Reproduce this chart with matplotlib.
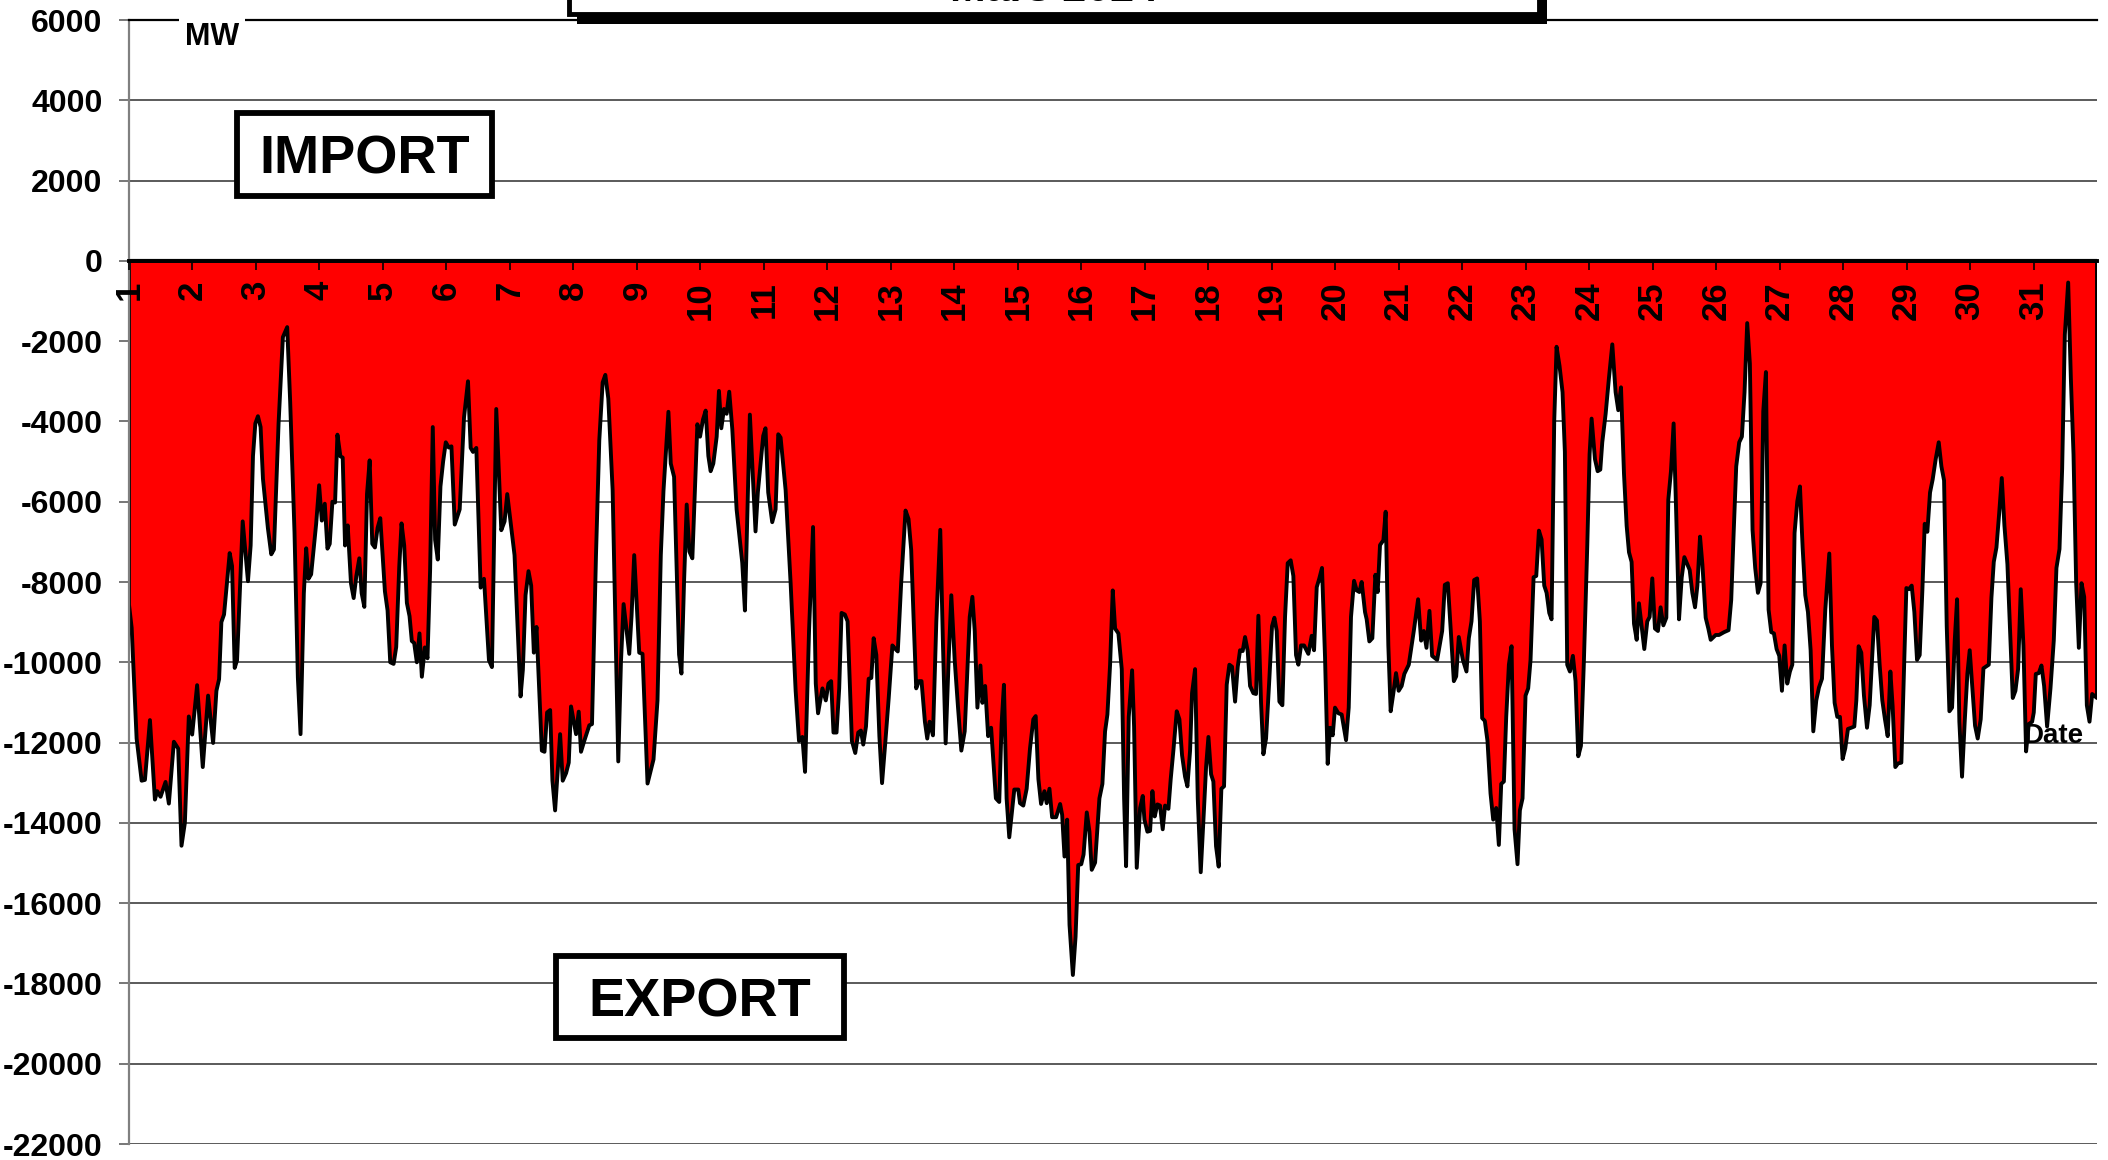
import matplotlib

matplotlib.use("Agg")
import matplotlib.pyplot as plt
import numpy as np
from matplotlib.patches import Rectangle

plt.rcParams["font.family"] = ["Liberation Sans", "DejaVu Sans"]
plt.rcParams["font.weight"] = "bold"
plt.rcParams["axes.unicode_minus"] = False

TITLE = "Mars 2024"
UNIT = "MW"
IMPORT_LABEL = "IMPORT"
EXPORT_LABEL = "EXPORT"
X_LABEL = "Date"
day_ticks = list(range(1, 32))
mw_ticks = list(range(-22000, 6001, 2000))

# Net exchange (MW); position in days of the month.
day_pos = [
    1.000, 1.042, 1.120, 1.199, 1.251, 1.330, 1.408, 1.445, 1.497, 1.576, 1.628, 1.707, 1.775, 1.827, 1.880,
    1.942, 1.995, 2.073, 2.162, 2.246, 2.325, 2.377, 2.419, 2.455, 2.497, 2.586, 2.623, 2.665, 2.702, 2.791,
    2.874, 2.916, 2.953, 2.990, 3.031, 3.073, 3.110, 3.188, 3.241, 3.283, 3.356, 3.424, 3.492, 3.539, 3.607,
    3.660, 3.702, 3.754, 3.791, 3.827, 3.869, 3.948, 3.995, 4.037, 4.084, 4.126, 4.162, 4.204, 4.246, 4.283,
    4.330, 4.366, 4.403, 4.445, 4.497, 4.539, 4.581, 4.628, 4.665, 4.707, 4.749, 4.791, 4.832, 4.874, 4.916,
    4.958, 5.031, 5.073, 5.115, 5.168, 5.209, 5.257, 5.293, 5.335, 5.377, 5.419, 5.455, 5.492, 5.534, 5.576,
    5.613, 5.660, 5.702, 5.743, 5.785, 5.822, 5.864, 5.906, 5.948, 5.990,
    6.037, 6.079, 6.131, 6.209, 6.277, 6.340, 6.382, 6.419, 6.471, 6.539, 6.592, 6.670, 6.717, 6.785, 6.864,
    6.916, 6.958, 7.073, 7.168, 7.204, 7.246, 7.293, 7.335, 7.377, 7.419, 7.503, 7.545, 7.586, 7.634, 7.670,
    7.712, 7.791, 7.832, 7.885, 7.927, 7.963, 8.042, 8.084, 8.120, 8.173, 8.251, 8.293, 8.356, 8.408, 8.461,
    8.503, 8.550, 8.618, 8.707, 8.749, 8.791, 8.880, 8.916, 8.958, 9.037, 9.089, 9.168, 9.262, 9.325, 9.377,
    9.419, 9.497, 9.534, 9.586, 9.665, 9.702, 9.743, 9.785, 9.827, 9.874, 9.953, 9.995, 10.042, 10.084, 10.126,
    10.162, 10.204, 10.257, 10.293, 10.330, 10.372, 10.414, 10.455, 10.503, 10.571, 10.660, 10.702, 10.780,
    10.869, 10.906, 10.990,
    11.026, 11.069, 11.132, 11.185, 11.227, 11.264, 11.343, 11.422, 11.501, 11.554, 11.607, 11.649, 11.712,
    11.775, 11.818, 11.854, 11.923, 11.976, 12.018, 12.060, 12.097, 12.145, 12.187, 12.224, 12.276, 12.319,
    12.387, 12.440, 12.487, 12.529, 12.566, 12.609, 12.651, 12.693, 12.730, 12.772, 12.820, 12.862, 12.915,
    12.967, 13.025, 13.073, 13.110, 13.163, 13.232, 13.279, 13.321, 13.358, 13.400, 13.442, 13.484, 13.537,
    13.574, 13.611, 13.664, 13.717, 13.779, 13.822, 13.864, 13.911, 13.953, 14.006, 14.059, 14.111, 14.164,
    14.243, 14.285, 14.322, 14.364, 14.412, 14.443, 14.486, 14.533, 14.580, 14.655, 14.708, 14.745, 14.782,
    14.824, 14.866, 14.945, 15.008, 15.035, 15.087, 15.140, 15.193, 15.245, 15.282, 15.325, 15.367, 15.420,
    15.456, 15.499, 15.541, 15.604, 15.667, 15.699, 15.736, 15.778, 15.815, 15.868, 15.910, 15.952, 16.000,
    16.036,
    16.087, 16.129, 16.165, 16.218, 16.286, 16.333, 16.375, 16.412, 16.454, 16.496, 16.533, 16.585, 16.638,
    16.675, 16.706, 16.748, 16.801, 16.832, 16.874, 16.927, 16.969, 16.995, 17.042, 17.084, 17.121, 17.157,
    17.199, 17.241, 17.283, 17.320, 17.373, 17.409, 17.451, 17.504, 17.546, 17.588, 17.635, 17.672, 17.714,
    17.745, 17.793, 17.835, 17.882, 17.934, 17.966, 18.003, 18.045, 18.081, 18.123, 18.165, 18.207, 18.249,
    18.291, 18.333, 18.375, 18.423, 18.465, 18.501, 18.543, 18.580, 18.622, 18.659, 18.711, 18.753, 18.790,
    18.832, 18.869, 18.911, 18.963, 19.005, 19.042, 19.079, 19.121, 19.168, 19.210, 19.252, 19.299, 19.341,
    19.383, 19.420, 19.462, 19.509, 19.577, 19.630, 19.667, 19.709, 19.750, 19.792, 19.840, 19.882, 19.919,
    19.961, 19.997, 20.050, 20.102, 20.171, 20.213, 20.249, 20.297, 20.339, 20.381, 20.417, 20.470, 20.496,
    20.538, 20.585, 20.633, 20.669, 20.706, 20.759, 20.795, 20.837, 20.874, 20.916, 20.958, 21.000, 21.047,
    21.089,
    21.159, 21.238, 21.306, 21.354, 21.396, 21.438, 21.485, 21.527, 21.606, 21.685, 21.727, 21.774, 21.821,
    21.869, 21.906, 21.947, 22.011, 22.068, 22.105, 22.147, 22.189, 22.236, 22.279, 22.315, 22.357, 22.399,
    22.447, 22.489, 22.536, 22.578, 22.615, 22.657, 22.694, 22.736, 22.778, 22.825, 22.872, 22.909, 22.951,
    22.998, 23.040, 23.077, 23.125, 23.167, 23.209, 23.251, 23.293, 23.330, 23.372, 23.408, 23.450, 23.487,
    23.534, 23.581, 23.618, 23.655, 23.697, 23.744, 23.786, 23.829, 23.871, 23.918, 23.971, 24.007, 24.039,
    24.092, 24.134, 24.176, 24.207, 24.260, 24.312, 24.365, 24.417, 24.459, 24.502, 24.549, 24.591, 24.628,
    24.669, 24.707, 24.749, 24.785, 24.827, 24.869, 24.916, 24.953, 24.995, 25.037, 25.084, 25.126, 25.169,
    25.216, 25.247, 25.289, 25.331, 25.373, 25.416, 25.458, 25.500, 25.547, 25.584, 25.626, 25.668, 25.705,
    25.747, 25.784, 25.836, 25.878, 25.915, 25.994, 26.046, 26.125,
    26.196, 26.238, 26.275, 26.317, 26.364, 26.406, 26.448, 26.490, 26.532, 26.574, 26.616, 26.659, 26.701,
    26.743, 26.785, 26.827, 26.869, 26.911, 26.953, 26.995, 27.037, 27.079, 27.121, 27.163, 27.200, 27.236,
    27.279, 27.321, 27.363, 27.405, 27.447, 27.489, 27.531, 27.578, 27.620, 27.668, 27.720, 27.783, 27.825,
    27.867, 27.909, 27.951, 27.993, 28.035, 28.077, 28.130, 28.177, 28.209, 28.245, 28.287, 28.329, 28.377,
    28.419, 28.456, 28.492, 28.534, 28.576, 28.618, 28.660, 28.703, 28.745, 28.781, 28.823, 28.865, 28.918,
    28.960, 28.997, 29.039, 29.081, 29.123, 29.165, 29.207, 29.249, 29.286, 29.328, 29.370, 29.412, 29.459,
    29.507, 29.549, 29.591, 29.633, 29.675, 29.717, 29.759, 29.796, 29.832, 29.874, 29.916, 29.958, 29.995,
    30.037, 30.079, 30.121, 30.168, 30.211, 30.295, 30.337, 30.374, 30.416, 30.458, 30.500, 30.542, 30.589,
    30.631, 30.673, 30.715, 30.757, 30.799, 30.841, 30.883, 30.925, 30.978, 31.004, 31.036, 31.083, 31.125,
    31.167, 31.214, 31.267, 31.319, 31.361, 31.409, 31.451, 31.493, 31.546, 31.588, 31.630, 31.672, 31.714,
    31.756, 31.798, 31.840, 31.882, 31.924, 32.000,
]
flow_mw = [
    -8570, -9140, -11900, -12950, -12930, -11440, -13420, -13210, -13350, -12980, -13520, -11980, -12150, -14570, -14000,
    -11350, -11800, -10570, -12610, -10830, -12010, -10710, -10420, -9000, -8810, -7280, -7600, -10140, -9950, -6490,
    -7980, -7090, -4860, -4050, -3870, -4140, -5430, -6660, -7310, -7190, -4050, -1900, -1650, -3520, -6760,
    -10380, -11790, -8280, -7160, -7920, -7810, -6550, -5590, -6470, -6050, -7170, -7050, -6000, -6020, -4330,
    -4870, -4900, -7090, -6590, -8040, -8400, -7850, -7410, -8280, -8620, -5810, -4970, -7050, -7140, -6650,
    -6410, -8230, -8710, -10000, -10040, -9620, -7620, -6540, -7090, -8520, -8850, -9470, -9520, -10000, -9280,
    -10360, -9630, -9900, -7710, -4140, -6950, -7440, -5620, -5000, -4520,
    -4650, -4620, -6570, -6190, -3900, -3000, -4660, -4760, -4660, -8140, -7920, -9950, -10120, -3690, -6710,
    -6490, -5810, -7330, -10850, -10190, -8330, -7730, -8090, -9760, -9120, -12200, -12230, -11250, -11190, -12950,
    -13690, -11790, -12950, -12760, -12500, -11100, -11790, -11230, -12230, -11950, -11570, -11540, -7330, -4470, -3030,
    -2840, -3430, -5710, -12470, -10000, -8550, -9790, -8850, -7330, -9760, -9790, -13020, -12420, -10950, -7330,
    -5730, -3760, -5050, -5380, -9810, -10280, -8000, -6070, -7240, -7410, -4070, -4380, -3950, -3730, -4860,
    -5240, -5050, -4380, -3240, -4170, -3690, -3810, -3260, -4190, -6190, -7520, -8710, -3830,
    -6740, -5760, -4360,
    -4170, -5770, -6510, -6190, -4320, -4400, -5710, -8030, -10710, -11960, -11860, -12730, -9220,
    -6630, -10530, -11270, -10650, -10950, -10530, -10470, -11750, -11750, -10650, -8770, -8810, -8980,
    -11960, -12260, -11750, -11700, -12050, -11600, -10410, -10390, -9400, -9820, -11840, -13010, -11960,
    -10890, -9580, -9670, -9730, -8030, -6220, -6430, -7200, -8870, -10650, -10470, -10470, -11480,
    -11900, -11480, -11820, -8980, -6700, -9580, -12020, -9940, -8330, -9940, -11130, -12200, -11720,
    -8870, -8370, -9220, -11130, -10080, -11010, -10590, -11840, -11630, -13390, -13480, -11540, -10560,
    -13390, -14360, -13170, -13170, -13510, -13570, -13150, -12140, -11420, -11340, -12910, -13530, -13210,
    -13510, -13150, -13860, -13860, -13530, -13800, -14840, -13920, -16540, -17790, -16840, -15050, -15030,
    -14790,
    -13740, -14220, -15170, -14990, -13390, -13030, -11720, -11300, -10060, -8210, -9160, -9280, -10170,
    -13390, -15080, -11360, -10200, -11600, -15120, -13630, -13330, -13920, -14220, -14200, -13210, -13840,
    -13540, -13570, -14160, -13570, -13650, -12910, -12200, -11220, -11420, -12320, -12850, -13090, -12200,
    -10770, -10170, -13390, -15230, -13630, -12610, -11860, -12790, -12970, -14580, -15090, -13150, -13090,
    -10560, -10060, -10110, -10980, -10110, -9700, -9720, -9370, -9720, -10590, -10770, -10790, -8840,
    -11010, -12290, -11900, -10410, -9100, -8890, -9220, -10980, -11070, -8870, -7530, -7460, -7850,
    -9820, -10060, -9580, -9580, -9790, -9340, -9700, -8130, -7910, -7650, -9880, -12530, -11630,
    -11820, -11130, -11270, -11300, -11940, -11130, -8870, -7970, -8210, -8250, -8000, -8750, -8930,
    -9480, -9400, -7820, -8250, -7080, -6960, -6250, -9580, -11220, -10770, -10270, -10710, -10590,
    -10290,
    -10060, -9220, -8430, -9460, -9220, -9640, -8720, -9840, -9940, -9220, -8070, -8030, -9220,
    -10470, -10350, -9370, -9940, -10230, -9400, -8980, -7950, -7910, -8980, -11390, -11460, -11960,
    -13270, -13920, -13630, -14550, -13030, -12970, -11360, -10060, -9600, -14160, -15030, -13690, -13390,
    -10830, -10650, -9940, -7880, -7850, -6720, -6940, -8090, -8270, -8770, -8930, -3990, -2140,
    -2620, -3270, -4760, -10060, -10230, -9840, -10470, -12340, -12080, -9940, -7080, -4820, -3930,
    -4940, -5240, -5200, -4520, -3810, -2920, -2080, -3270, -3720, -3150, -5300, -6600, -7260,
    -7500, -9040, -9440, -8530, -9100, -9670, -8980, -8870, -7910, -9160, -9220, -8630, -9080,
    -8890, -5950, -5240, -4050, -6370, -8930, -7890, -7380, -7560, -7700, -8270, -8630, -8090,
    -6870, -7560, -8890, -9160, -9440, -9320, -9320, -9250,
    -9200, -8450, -6840, -5120, -4520, -4380, -3270, -1550, -2560, -6700, -7650, -8270, -8030,
    -3750, -2770, -8690, -9250, -9280, -9670, -9840, -10710, -9580, -10530, -10230, -10060, -6780,
    -5990, -5620, -7140, -8330, -8750, -9700, -11720, -10950, -10630, -10410, -8690, -7290, -9580,
    -11010, -11360, -11360, -12410, -12140, -11660, -11630, -11600, -10950, -9600, -9760, -10830, -11630,
    -11070, -9940, -8870, -8960, -10060, -10950, -11420, -11840, -10230, -11100, -12610, -12520, -12500,
    -10170, -8150, -8180, -8090, -8750, -9940, -9820, -8210, -6550, -6750, -5770, -5440, -4940,
    -4520, -5120, -5470, -9100, -11220, -11130, -9460, -8430, -11480, -12850, -11480, -10290, -9700,
    -10650, -11580, -11900, -11420, -10150, -10060, -8390, -7500, -7140, -6310, -5410, -6600, -7560,
    -9220, -10890, -10710, -10170, -8180, -9580, -12220, -11540, -11480, -11250, -10290, -10270, -10080,
    -10590, -11600, -10650, -9460, -7650, -7180, -5180, -1840, -540, -2920, -4820, -8030, -9640,
    -8030, -8370, -11070, -11480, -10790, -10890,
]

W, H = 2108, 1160
fig = plt.figure(figsize=(W / 100, H / 100), dpi=100)
ax = fig.add_axes([129 / W, 1 - 1144 / H, (2097 - 129) / W, (1144 - 20) / H])

x = np.asarray(day_pos)
y = np.asarray(flow_mw)
ax.fill(np.r_[x[0], x, x[-1]], np.r_[0, y, 0], facecolor="#ff0000",
        edgecolor="black", lw=2.8, joinstyle="round", zorder=2)

ax.set_xlim(1, 32)
ax.set_ylim(-22000, 6000)
ax.set_xticks(day_ticks)
ax.set_yticks(mw_ticks)
# gridlines behind the area, day labels on top of it
ax.set_axisbelow(True)
ax.grid(axis="y", color="#5a5a5a", lw=1.4)
ax.grid(axis="x", visible=False)
ax.xaxis.set_zorder(3)

ax.spines["right"].set_visible(False)
ax.spines["top"].set_color("black")
ax.spines["top"].set_linewidth(1.6)
ax.spines["left"].set_color("#808080")
ax.spines["left"].set_linewidth(1.6)
ax.spines["bottom"].set_position(("data", 0))
ax.spines["bottom"].set_color("black")
ax.spines["bottom"].set_linewidth(2.8)
ax.spines["bottom"].set_zorder(3)

ax.tick_params(axis="y", direction="out", length=7, width=1.2, color="#606060",
               labelsize=23, pad=12)
ax.tick_params(axis="x", direction="out", length=6.5, width=1.2, color="black",
               labelsize=25, labelrotation=90, pad=8)
for lab in ax.get_xticklabels() + ax.get_yticklabels():
    lab.set_fontweight("bold")

# unit label sits on the top line with a white backing
fig.text(212 / W, 1 - 22 / H, UNIT, fontsize=22, fontweight="bold", ha="center", va="top",
         bbox=dict(facecolor="white", edgecolor="none", pad=4), zorder=5)

# title box, cut off at the top edge, with a drop shadow
tx0, tx1, ty0 = 569 / W, 1539 / W, 1 - 14 / H
fig.patches.append(Rectangle((tx0 + 8 / W, ty0 - 10 / H), tx1 - tx0, 0.06, transform=fig.transFigure,
                             facecolor="black", edgecolor="black", lw=0, zorder=4))
fig.patches.append(Rectangle((tx0, ty0), tx1 - tx0, 0.06, transform=fig.transFigure,
                             facecolor="white", edgecolor="black", lw=3.5, zorder=4))
fig.text((tx0 + tx1) / 2, 1 - 1 / H, TITLE, fontsize=31, fontweight="bold",
         ha="center", va="baseline", zorder=6)

# IMPORT / EXPORT boxes
for label, (bx0, by0, bx1, by1) in ((IMPORT_LABEL, (237, 113, 492, 196)),
                                     (EXPORT_LABEL, (556, 956, 844, 1038))):
    fig.patches.append(Rectangle((bx0 / W, 1 - by1 / H), (bx1 - bx0) / W, (by1 - by0) / H,
                                 transform=fig.transFigure, facecolor="white",
                                 edgecolor="black", lw=4.2, zorder=4))
    fig.text((bx0 + bx1) / 2 / W, 1 - (by0 + by1) / 2 / H, label, fontsize=39,
             fontweight="bold", ha="center", va="center_baseline", zorder=6)

ax.text(0.9777, 0.357, X_LABEL, transform=ax.transAxes, fontsize=20, fontweight="bold",
        ha="center", va="baseline", zorder=6)

fig.savefig("out.png", dpi=100)
